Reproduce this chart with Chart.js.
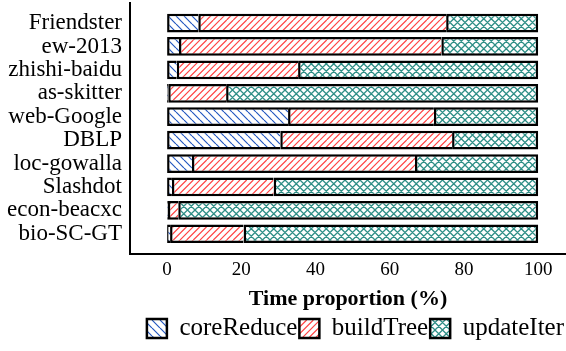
<!DOCTYPE html>
<html>
<head>
<meta charset="utf-8">
<script src="https://cdn.jsdelivr.net/npm/chart.js@4.4.1/dist/chart.umd.min.js"></script>
<style>
  html, body { margin: 0; padding: 0; background: #fff; }
  #wrap { width: 566px; height: 351px; }
</style>
</head>
<body>
<div id="wrap"><canvas id="c" width="566" height="351"></canvas></div>
<script>
// Graph datasets (top to bottom) and the share of run time per phase, in %
const categories = ['Friendster', 'ew-2013', 'zhishi-baidu', 'as-skitter', 'web-Google',
                    'DBLP', 'loc-gowalla', 'Slashdot', 'econ-beacxc', 'bio-SC-GT'];
const coreReduce = [8.4, 3.2, 2.6, 0.3, 32.6, 30.5, 6.7, 1.3, 0.2, 0.8];
const buildTree  = [66.8, 70.7, 32.7, 15.6, 39.3, 46.3, 60.1, 27.4, 2.8, 19.8];
const updateIter = [24.8, 26.1, 64.7, 84.1, 28.1, 23.2, 33.2, 71.3, 97.0, 79.4];
const xTicks = [0, 20, 40, 60, 80, 100];

const FONT = 'Liberation Serif';

// Hatch fills: white square tile of side s holding n diagonal strokes
function hatch(color, kind, width, s, n) {
  const c = document.createElement('canvas');
  c.width = s; c.height = s;
  const g = c.getContext('2d');
  g.fillStyle = '#fff';
  g.fillRect(0, 0, s, s);
  g.strokeStyle = color;
  g.lineWidth = width;
  g.beginPath();
  for (let k = -n; k <= n; k++) {
    const o = k * s / n;
    if (kind === 'back' || kind === 'cross') { g.moveTo(o, 0); g.lineTo(o + s, s); }
    if (kind === 'fwd' || kind === 'cross') { g.moveTo(o, s); g.lineTo(o + s, 0); }
  }
  g.stroke();
  return g.createPattern(c, 'repeat');
}

const edge = 2.5;
const toPoints = arr => arr.map((v, i) => ({ x: v, y: i }));

const datasets = [
  { label: 'coreReduce', data: toPoints(coreReduce), backgroundColor: hatch('#2458c0', 'back', 1.2, 8, 1),
    borderWidth: { top: edge, bottom: edge, left: edge, right: 0 } },
  { label: 'buildTree', data: toPoints(buildTree), backgroundColor: hatch('#ff4444', 'fwd', 1.2, 20, 3),
    borderWidth: { top: edge, bottom: edge, left: edge, right: 0 } },
  { label: 'updateIter', data: toPoints(updateIter), backgroundColor: hatch('#2f8f87', 'cross', 1.3, 15, 2),
    borderWidth: { top: edge, bottom: edge, left: edge, right: edge } }
].map(d => Object.assign(d, {
  borderColor: '#000', borderSkipped: false, barPercentage: 0.8, categoryPercentage: 1
}));

new Chart(document.getElementById('c'), {
  type: 'bar',
  data: { datasets },
  options: {
    indexAxis: 'y',
    responsive: false,
    animation: false,
    devicePixelRatio: 1,
    layout: { padding: { top: 3, right: 0, left: 0, bottom: 0 } },
    scales: {
      x: {
        type: 'linear', min: -10, max: 107.5, stacked: true, offset: false,
        afterBuildTicks: s => { s.ticks = xTicks.map(v => ({ value: v })); },
        grid: { display: false, drawTicks: false },
        border: { display: true, color: '#000', width: 2 },
        ticks: { color: '#000', font: { family: FONT, size: 19 }, padding: 5, maxRotation: 0, autoSkip: false },
        title: { display: true, text: 'Time proportion (%)', color: '#000',
                 font: { family: FONT, size: 22, weight: 'bold' }, padding: { top: 0, bottom: 1 } }
      },
      y: {
        type: 'linear', min: -0.856, max: 9.856, reverse: true, stacked: true, offset: false,
        afterBuildTicks: s => { s.ticks = categories.map((_, i) => ({ value: i })); },
        afterFit: s => { s.width = 130; s.paddingTop = 0; s.paddingBottom = 0; },
        grid: { display: false, drawTicks: false, offset: false },
        border: { display: true, color: '#000', width: 2 },
        ticks: { color: '#000', font: { family: FONT, size: 23 }, padding: 8, autoSkip: false,
                 callback: v => categories[v] ?? '' }
      }
    },
    plugins: {
      tooltip: { enabled: false },
      legend: {
        position: 'bottom', align: 'end',
        labels: {
          boxWidth: 20, boxHeight: 19, padding: 2, color: '#000',
          font: { family: FONT, size: 25 },
          generateLabels: chart => chart.data.datasets.map((ds, i) => ({
            text: ds.label, fillStyle: ds.backgroundColor, strokeStyle: '#000',
            lineWidth: edge, hidden: false, datasetIndex: i, fontColor: '#000'
          }))
        }
      }
    }
  }
});
</script>
</body>
</html>
